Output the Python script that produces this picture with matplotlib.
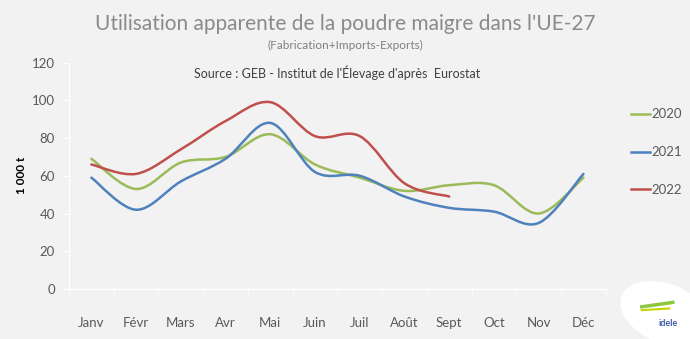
import numpy as np
import matplotlib.pyplot as plt
from matplotlib.path import Path
from matplotlib.patches import PathPatch, Ellipse

months = ['Janv', 'Févr', 'Mars', 'Avr', 'Mai', 'Juin', 'Juil', 'Août', 'Sept', 'Oct', 'Nov', 'Déc']
y2020 = [69, 53, 67, 70, 82, 66, 59, 52, 55, 55, 40, 59]
y2021 = [59, 42, 57, 69, 88, 62, 60, 49, 43, 41, 35, 61]
y2022 = [66, 61, 74, 89, 99, 81, 81, 56, 49]
yticks = [0, 20, 40, 60, 80, 100, 120]

plt.rcParams['font.family'] = ['Lato', 'DejaVu Sans']
BG = '#f2f2f2'


def smooth_path(xs, ys, t=1/6):
    # Excel-like smoothed line: cubic Bezier through every point
    xs = np.asarray(xs, float)
    ys = np.asarray(ys, float)
    n = len(xs)
    verts = [(xs[0], ys[0])]
    codes = [Path.MOVETO]
    for i in range(n - 1):
        p0 = i - 1 if i > 0 else i
        p3 = i + 2 if i + 2 < n else i + 1
        c1 = (xs[i] + (xs[i + 1] - xs[p0]) * t, ys[i] + (ys[i + 1] - ys[p0]) * t)
        c2 = (xs[i + 1] - (xs[p3] - xs[i]) * t, ys[i + 1] - (ys[p3] - ys[i]) * t)
        verts += [c1, c2, (xs[i + 1], ys[i + 1])]
        codes += [Path.CURVE4] * 3
    return Path(verts, codes)


fig = plt.figure(figsize=(6.9, 3.39), dpi=100, facecolor=BG)
ax = fig.add_axes([0.100, 0.1475, 0.778, 0.668])
ax.set_facecolor(BG)

series = [('2020', y2020, '#9bbb59'), ('2021', y2021, '#4f81bd'), ('2022', y2022, '#c0504d')]
for name, vals, col in series:
    x = np.arange(len(vals))
    ax.add_patch(PathPatch(smooth_path(x, vals), fill=False, edgecolor=col, lw=1.8,
                           capstyle='round', joinstyle='round'))
    ax.plot([], [], color=col, lw=1.8, label=name)

ax.set_xlim(-0.5, 11.5)
ax.set_ylim(0, 120)
ax.set_yticks(yticks)
ax.set_xticks(np.arange(12))
ax.set_xticklabels(months)
ax.set_xticks(np.arange(-0.5, 12, 1), minor=True)
ax.tick_params(axis='x', which='major', length=0, pad=20, labelsize=9.5, labelcolor='#595959')
ax.tick_params(axis='x', which='minor', length=4, color='white', direction='out')
ax.tick_params(axis='y', length=4, color='white', labelsize=9.5, labelcolor='#595959', pad=6)
for side in ['top', 'right']:
    ax.spines[side].set_visible(False)
for side in ['left', 'bottom']:
    ax.spines[side].set_color('white')
    ax.spines[side].set_linewidth(1)

ax.set_ylabel('1 000 t', fontsize=8.5, fontweight='bold', color='black')
ax.yaxis.set_label_coords(-0.078, 0.5)

ax.text(0.5, 0.985, "Source : GEB - Institut de l'Élevage d'après  Eurostat", transform=ax.transAxes,
        ha='center', va='top', fontsize=9, color='#404040')

fig.text(0.5, 0.93, "Utilisation apparente de la poudre maigre dans l'UE-27", ha='center', va='center',
         fontsize=15, color='#8a8a8a')
fig.text(0.5, 0.865, '(Fabrication+Imports-Exports)', ha='center', va='center', fontsize=8.5, color='#7f7f7f')

leg = fig.legend(loc='upper left', bbox_to_anchor=(0.898, 0.715), frameon=False, fontsize=9.5,
                 handlelength=1.4, handletextpad=0.1, labelspacing=1.95, labelcolor='#595959')

# logo idele
fig.patches.append(Ellipse((0.965, 0.075), 0.12, 0.2, angle=20, transform=fig.transFigure,
                           facecolor='white', edgecolor='none'))
fig.text(0.968, 0.045, 'idele', ha='center', va='center', fontsize=6.5, fontweight='bold', color='#3a5ba8')
fig.lines.append(plt.Line2D([0.93, 0.975], [0.095, 0.108], transform=fig.transFigure, color='#8dc63f', lw=2.5))
fig.lines.append(plt.Line2D([0.93, 0.97], [0.085, 0.09], transform=fig.transFigure, color='#c8d400', lw=1.5))

fig.savefig('out.png', dpi=100, facecolor=BG)
